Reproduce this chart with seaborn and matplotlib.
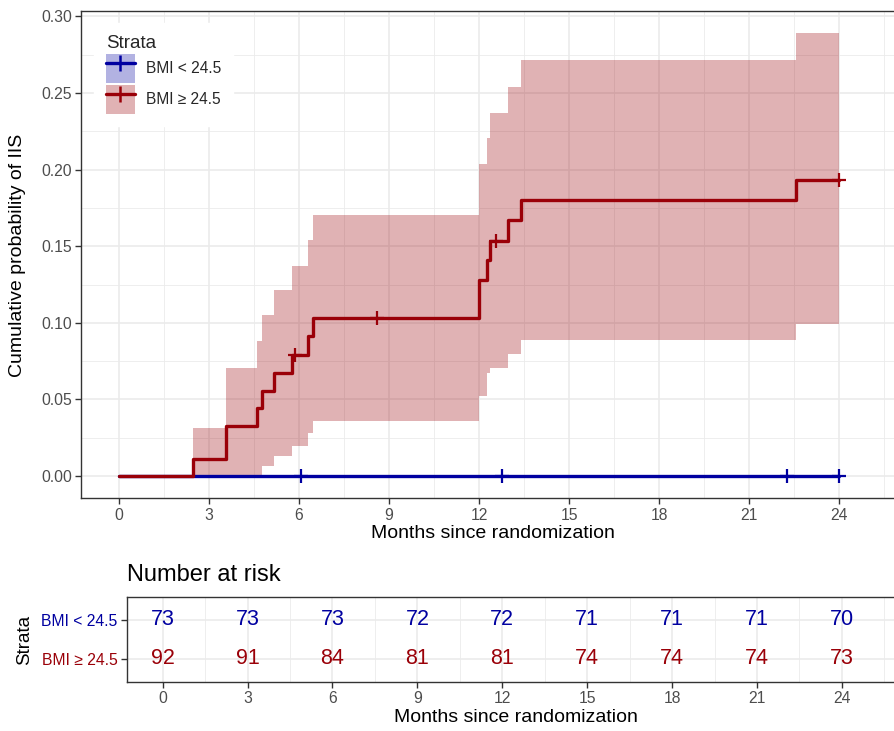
import numpy as np
import pandas as pd
import matplotlib
matplotlib.use("Agg")
import matplotlib.pyplot as plt
from matplotlib.ticker import MultipleLocator
from matplotlib.patches import Patch
from matplotlib.lines import Line2D
import seaborn as sns

# strata
strata = ["BMI < 24.5", "BMI \u2265 24.5"]
colors = ["#0000A0", "#9A0008"]

# BMI < 24.5 : no events
lo_time = [0.0, 24.0]
lo_cum = [0.0, 0.0]
lo_censor = [6.07, 12.77, 22.27, 24.0]

# BMI >= 24.5 : cumulative incidence with 95% CI
hi_time = [0.0, 2.48, 3.56, 4.59, 4.75, 5.18, 5.78, 6.29, 6.48, 12.0, 12.27,
           12.38, 12.98, 13.4, 22.57, 24.0]
hi_cum = [0.0, 0.0109, 0.0326, 0.0442, 0.0554, 0.0674, 0.0789, 0.0913, 0.1032,
          0.1279, 0.1409, 0.1533, 0.1670, 0.1800, 0.1935, 0.1935]
hi_upper = [0.0, 0.0315, 0.0703, 0.0881, 0.1050, 0.1213, 0.1372, 0.1539, 0.1703,
            0.2035, 0.2207, 0.2370, 0.2540, 0.2714, 0.2890, 0.2890]
hi_lower = [0.0, 0.0, 0.0, 0.0, 0.0065, 0.0130, 0.0198, 0.0279, 0.0361,
            0.0522, 0.0670, 0.0703, 0.0794, 0.0887, 0.0992, 0.0992]
hi_censor = [5.87, 8.59, 12.57, 24.0]

# number at risk
risk_times = [0, 3, 6, 9, 12, 15, 18, 21, 24]
risk_lo = [73, 73, 73, 72, 72, 71, 71, 71, 70]
risk_hi = [92, 91, 84, 81, 81, 74, 74, 74, 73]

x_ticks = [0, 3, 6, 9, 12, 15, 18, 21, 24]
y_ticks = [0.00, 0.05, 0.10, 0.15, 0.20, 0.25, 0.30]


def step_value(times, vals, t):
    idx = np.searchsorted(times, t, side="right") - 1
    return np.asarray(vals)[idx]


sns.set_theme(style="white")
plt.rcParams["font.family"] = ["Liberation Sans", "DejaVu Sans"]

W, H = 895, 731
fig = plt.figure(figsize=(W / 100, H / 100), dpi=100)
xlim = (-1.25, 26.25)

grid_c = "#EBEBEB"
border_c = "#333333"
tick_c = "#4D4D4D"

# ---- main curve panel
ax = fig.add_axes([81.5 / W, 1 - 498 / H, 825 / W, 487 / H])
ax.set_xlim(*xlim)
ax.set_ylim(-0.0143, 0.3035)

ax.xaxis.set_major_locator(MultipleLocator(3))
ax.xaxis.set_minor_locator(MultipleLocator(1.5))
ax.yaxis.set_major_locator(MultipleLocator(0.05))
ax.yaxis.set_minor_locator(MultipleLocator(0.025))
ax.grid(which="major", color=grid_c, lw=1.2, zorder=0)
ax.grid(which="minor", color=grid_c, lw=0.6, zorder=0)
ax.set_axisbelow(True)

df_lo = pd.DataFrame({"time": lo_time, "cum": lo_cum})
df_hi = pd.DataFrame({"time": hi_time, "cum": hi_cum})

ax.fill_between(hi_time, hi_lower, hi_upper, step="post", color=colors[1],
                alpha=0.3, lw=0, zorder=1)

sns.lineplot(data=df_lo, x="time", y="cum", ax=ax, color=colors[0], lw=2.4,
             drawstyle="steps-post", estimator=None, legend=False, zorder=3)
sns.lineplot(data=df_hi, x="time", y="cum", ax=ax, color=colors[1], lw=2.4,
             drawstyle="steps-post", estimator=None, legend=False, zorder=4)

sns.scatterplot(x=lo_censor, y=step_value(lo_time, lo_cum, lo_censor), ax=ax,
                marker="+", s=90, color=colors[0], linewidth=1.6, zorder=5)
sns.scatterplot(x=hi_censor, y=step_value(hi_time, hi_cum, hi_censor), ax=ax,
                marker="+", s=90, color=colors[1], linewidth=1.6, zorder=5)

ax.set_xticks(x_ticks)
ax.set_xticklabels([str(t) for t in x_ticks])
ax.set_yticks(y_ticks)
ax.set_yticklabels([f"{v:.2f}" for v in y_ticks])
ax.tick_params(which="major", length=4, width=1, color=border_c,
               labelcolor=tick_c, labelsize=11.3, pad=3, bottom=True, left=True)
ax.tick_params(which="minor", length=0)
for s in ax.spines.values():
    s.set_color(border_c)
    s.set_linewidth(1.0)

ax.set_xlabel("Months since randomization", fontsize=14, color="black")
ax.xaxis.set_label_coords(493 / W, 1 - 534 / H, transform=fig.transFigure)
ax.xaxis.label.set_va("center")
ax.set_ylabel("Cumulative probability of IIS", fontsize=14, color="black",
              va="center")
ax.yaxis.set_label_coords(18 / W, 1 - 255 / H, transform=fig.transFigure)

handles = [
    (Patch(facecolor=colors[i], alpha=0.3, lw=0),
     Line2D([], [], color=colors[i], lw=2.4, marker="+", markersize=11,
            markeredgewidth=1.8))
    for i in range(2)
]
leg = ax.legend(handles, strata, title="Strata", loc="upper left",
                bbox_to_anchor=(0.0152, 0.975), borderaxespad=0,
                frameon=True, fontsize=11.2,
                title_fontsize=13.5, handlelength=1.86, handleheight=2.49,
                labelspacing=0.13, handletextpad=0.75, borderpad=0.75,
                alignment="left", fancybox=False)
leg.get_frame().set_facecolor("white")
leg.get_frame().set_edgecolor("white")
leg.get_frame().set_alpha(1)

# ---- risk table panel
ax2 = fig.add_axes([127.3 / W, 1 - 681.7 / H, 778.3 / W, 85 / H])
ax2.set_xlim(*xlim)
ax2.set_ylim(0.4, 2.6)
ax2.xaxis.set_major_locator(MultipleLocator(3))
ax2.xaxis.set_minor_locator(MultipleLocator(1.5))
ax2.grid(which="major", color=grid_c, lw=1.2, zorder=0)
ax2.grid(which="minor", axis="x", color=grid_c, lw=0.6, zorder=0)
ax2.set_axisbelow(True)

rows = {0: 2, 1: 1}
for i, counts in enumerate([risk_lo, risk_hi]):
    for t, n in zip(risk_times, counts):
        ax2.text(t, rows[i], str(n), ha="center", va="center", fontsize=15.5,
                 color=colors[i], zorder=3)

ax2.set_xticks(x_ticks)
ax2.set_xticklabels([str(t) for t in x_ticks])
ax2.set_yticks([rows[0], rows[1]])
ax2.set_yticklabels(strata)
for lab, c in zip(ax2.get_yticklabels(), colors):
    lab.set_color(c)
ax2.tick_params(which="major", length=4, width=1, color=border_c,
                labelsize=11.3, pad=3, bottom=True, left=True)
ax2.tick_params(axis="x", labelcolor=tick_c)
ax2.tick_params(which="minor", length=0)
for s in ax2.spines.values():
    s.set_color(border_c)
    s.set_linewidth(1.0)

ax2.set_xlabel("Months since randomization", fontsize=14, color="black")
ax2.xaxis.set_label_coords(516 / W, 1 - 718 / H, transform=fig.transFigure)
ax2.xaxis.label.set_va("center")
ax2.set_ylabel("Strata", fontsize=13.5, color="black", va="center")
ax2.yaxis.set_label_coords(25 / W, 1 - 640 / H, transform=fig.transFigure)

fig.text(127 / W, 1 - 575 / H, "Number at risk", fontsize=17, ha="left",
         va="center", color="black")

fig.savefig("out.png", dpi=100)
